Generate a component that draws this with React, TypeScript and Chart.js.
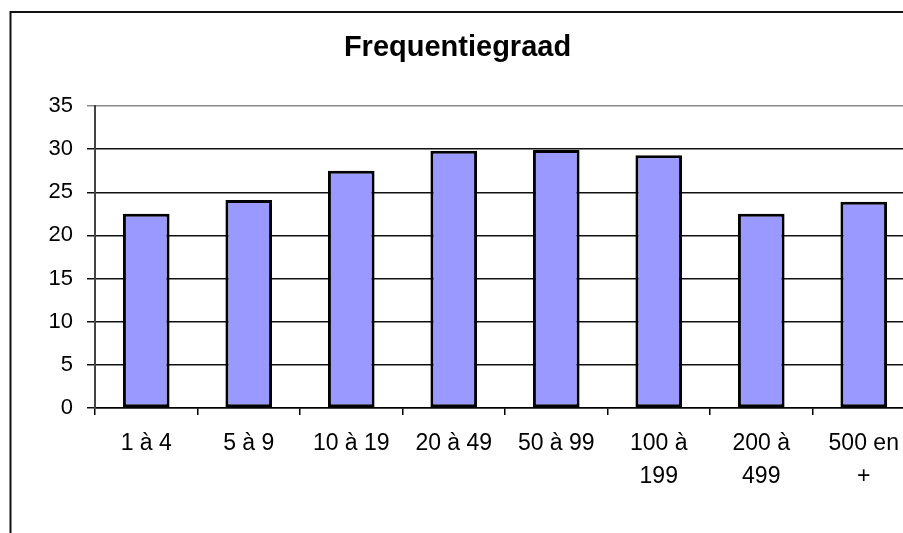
import React, { useEffect, useRef } from "react";
import { Chart, registerables } from "chart.js";

Chart.register(...registerables);

const categories: (string | string[])[] = [
  "1 à 4",
  "5 à 9",
  "10 à 19",
  "20 à 49",
  "50 à 99",
  ["100 à", "199"],
  ["200 à", "499"],
  ["500 en", "+"],
];
const values: number[] = [22.5, 24.1, 27.5, 29.8, 29.9, 29.3, 22.5, 23.9];
const yTicks: number[] = [0, 5, 10, 15, 20, 25, 30, 35];
const title = "Frequentiegraad";

const FONT = "'Liberation Sans', Arial, sans-serif";

const framePlugin = {
  id: "frame",
  beforeDraw(chart: any) {
    const ctx = chart.ctx;
    ctx.save();
    ctx.fillStyle = "#ffffff";
    ctx.fillRect(0, 0, chart.width, chart.height);
    ctx.strokeStyle = "#111111";
    ctx.lineWidth = 2;
    ctx.beginPath();
    ctx.moveTo(10.5, chart.height);
    ctx.lineTo(10.5, 12);
    ctx.lineTo(chart.width, 12);
    ctx.stroke();
    ctx.restore();
  },
};

export default function App() {
  const ref = useRef<HTMLCanvasElement | null>(null);

  useEffect(() => {
    if (!ref.current) return;
    const chart = new Chart(ref.current, {
      type: "bar",
      data: {
        labels: categories,
        datasets: [
          {
            data: values,
            backgroundColor: "#9999ff",
            borderColor: "#000000",
            borderWidth: 3,
            borderSkipped: false,
            categoryPercentage: 1,
            barPercentage: 0.455,
          },
        ],
      },
      options: {
        animation: false,
        responsive: false,
        devicePixelRatio: 1,
        layout: { padding: { left: 0, right: 15, top: 0, bottom: 0 } },
        plugins: {
          legend: { display: false },
          tooltip: { enabled: false },
          title: {
            display: true,
            text: title,
            color: "#000000",
            font: { family: FONT, size: 29, weight: "bold", lineHeight: 1.2 },
            padding: { top: 31, bottom: 40.2 },
          },
        },
        scales: {
          x: {
            offset: true,
            grid: {
              display: true,
              offset: true,
              drawOnChartArea: false,
              drawTicks: true,
              tickLength: 7,
              color: "#000000",
              lineWidth: 1.5,
            },
            border: { display: true, color: "#000000", width: 1.5 },
            ticks: {
              color: "#000000",
              font: { family: FONT, size: 23, lineHeight: 1.4 },
              padding: 13,
              maxRotation: 0,
              autoSkip: false,
            },
            afterFit(scale: any) {
              scale.height = 125;
            },
          },
          y: {
            min: 0,
            max: 35,
            afterBuildTicks(scale: any) {
              scale.ticks = yTicks.map((v) => ({ value: v }));
            },
            grid: {
              color: (c: any) => (c.tick && c.tick.value === 35 ? "#8a8a8a" : "#111111"),
              lineWidth: 1.5,
              drawTicks: true,
              tickLength: 8,
            },
            border: { display: true, color: "#444444", width: 2 },
            ticks: {
              color: "#000000",
              font: { family: FONT, size: 22 },
              padding: 14,
            },
            afterFit(scale: any) {
              scale.width = 95;
            },
          },
        },
      },
      plugins: [framePlugin],
    });
    return () => chart.destroy();
  }, []);

  return (
    <div
      style={{
        position: "fixed",
        left: 0,
        top: 0,
        width: 903,
        height: 533,
        overflow: "hidden",
        background: "#ffffff",
      }}
    >
      <canvas ref={ref} width={930} height={533} style={{ display: "block", width: 930, height: 533 }} />
    </div>
  );
}
